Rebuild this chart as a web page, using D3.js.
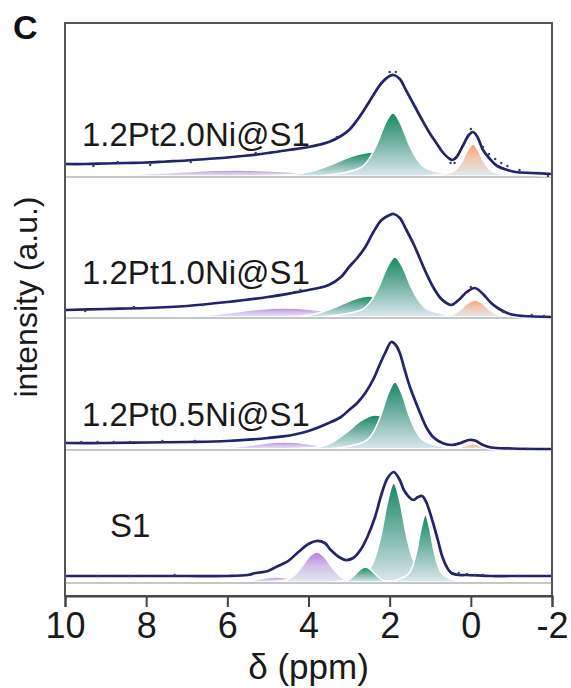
<!DOCTYPE html>
<html><head><meta charset="utf-8">
<script src="https://cdn.jsdelivr.net/npm/d3@7"></script>
<style>body{margin:0;background:#fff}svg{display:block}</style>
</head><body>
<script>
// ---- data ----
const xTicks = [10, 8, 6, 4, 2, 0, -2];
const xTickLabels = ["10", "8", "6", "4", "2", "0", "-2"];
const sampleNames = ["1.2Pt2.0Ni@S1", "1.2Pt1.0Ni@S1", "1.2Pt0.5Ni@S1", "S1"];

// fitted envelopes [ppm, intensity]
const fit1 = [[10,12],[9.5,12],[9,12.5],[8.5,13],[8,13.5],[7.5,14.5],[7,15.5],[6.5,17],[6,18.5],[5.5,20.5],[5,23],[4.5,26],[4,29],[3.5,34],[3.2,40],[3.0,46],[2.8,56],[2.6,68],[2.4,81],[2.2,93],[2.0,100],[1.9,101],[1.75,97],[1.6,86],[1.4,71],[1.2,56],[1.0,42],[0.85,33],[0.7,24],[0.55,18],[0.45,16],[0.35,19],[0.2,30],[0.05,41],[-0.05,44],[-0.15,40],[-0.3,26],[-0.45,18],[-0.65,10],[-0.9,6],[-1.1,4],[-1.5,3],[-2,2]];
const fit2 = [[10,7],[9,8],[8,9],[7,11],[6,15],[5,20],[4.4,24],[4,27],[3.5,32],[3.2,40],[3.0,50],[2.8,59],[2.6,70],[2.4,85],[2.2,97],[2.0,102],[1.9,103],[1.75,99],[1.6,88],[1.4,72],[1.25,58],[1.1,44],[0.93,30],[0.75,19],[0.6,14],[0.48,12],[0.3,17],[0.1,25],[-0.1,29],[-0.3,23],[-0.5,14],[-0.7,8],[-0.96,3],[-1.3,1],[-2,0]];
const fit3 = [[10,6],[9,6],[8,6.5],[7,7],[6,8],[5,11],[4.4,14],[4,18],[3.5,26],[3.2,32],[3.0,39],[2.8,46],[2.6,56],[2.4,70],[2.27,82],[2.1,97],[1.96,107],[1.85,104],[1.75,96],[1.65,82],[1.5,62],[1.28,39],[1.1,22],[0.93,12],[0.7,6],[0.48,4],[0.25,6],[0.05,9],[-0.1,8.5],[-0.3,4],[-0.5,1.5],[-1,0.5],[-2,0]];
const fit4 = [[10,6],[9,6],[8,6],[7,6],[6,6],[5.5,7],[5.3,9],[5.0,11],[4.8,15],[4.5,21],[4.25,30],[4.0,38],[3.8,41],[3.6,39],[3.45,32],[3.25,25],[3.08,22],[2.9,24],[2.72,32],[2.55,45],[2.36,65],[2.2,88],[2.05,104],[1.9,110],[1.75,102],[1.65,92],[1.5,84],[1.42,82],[1.3,85],[1.2,86],[1.1,80],[0.93,59],[0.8,40],[0.7,25],[0.58,14],[0.48,9],[0.3,7],[0.12,7],[-0.5,6],[-1,6],[-2,6]];

// experimental points that stand off the fit
const dots1 = [[9.3,10],[8.7,14],[7.9,11],[6.9,14],[5.3,23],[3.3,39],[2.0,104],[1.85,104],[0.5,13],[0.4,13],[0.0,47],[-0.3,29],[-0.45,22],[-0.6,17],[-0.75,13],[-0.9,10],[-1.2,6],[-1.7,3],[-1.9,0]];
const dots2 = [[9.5,6],[8.3,10],[6.6,12],[4.2,27],[0.0,30],[-0.8,5],[-1.5,2],[-1.8,1]];
const dots3 = [[9.6,7],[9.2,7],[8.8,7],[8.4,7],[7.6,8],[6.8,8],[-0.9,1],[-1.4,0]];
const dots4 = [[9.2,6],[8.4,6],[7.3,7],[0.3,9],[0.1,8],[-0.1,7],[-0.3,7],[-1.2,6]];

// deconvoluted components [ppm, intensity]
const c1Purple = [[11.56,0],[9.4,0.4],[8.5,1.3],[7.6,3],[6.7,5],[5.8,6],[4.9,5],[4.0,3],[3.1,1.3],[2.2,0.4],[0.04,0]];
const c1GreenBroad = [[5.6,0],[4.4,1.5],[3.9,5],[3.4,12],[2.9,20.2],[2.4,24],[1.9,20.2],[1.4,12],[0.9,5],[0.4,1.5],[-0.8,0]];
const c1GreenNarrow = [[3.84,0],[3.2,2.8],[2.72,8.2],[2.52,16.4],[2.32,31.5],[2.12,51.7],[1.92,63],[1.72,51.7],[1.52,31.5],[1.32,16.4],[1.12,8.2],[0.64,2.8],[0.0,0]];
const c1Orange = [[1.15,0],[0.75,1.4],[0.45,4.2],[0.325,8.3],[0.2,16],[0.075,26.2],[-0.05,32],[-0.175,26.2],[-0.3,16],[-0.425,8.3],[-0.55,4.2],[-0.85,1.4],[-1.25,0]];

const c2Purple = [[8.76,0],[7.2,0.6],[6.55,1.9],[5.9,4.5],[5.25,7.6],[4.6,9],[3.95,7.6],[3.3,4.5],[2.65,1.9],[2.0,0.6],[0.44,0]];
const c2GreenBroad = [[5.06,0],[4.1,1.3],[3.7,4.4],[3.3,10.5],[2.9,17.6],[2.5,21],[2.1,17.6],[1.7,10.5],[1.3,4.4],[0.9,1.3],[-0.06,0]];
const c2GreenNarrow = [[3.79,0],[3.15,2.7],[2.67,7.8],[2.47,15.6],[2.27,30],[2.07,49.2],[1.87,60],[1.67,49.2],[1.47,30],[1.27,15.6],[1.07,7.8],[0.59,2.7],[-0.05,0]];
const c2Orange = [[0.94,0],[0.55,1.1],[0.39,3.6],[0.225,8.5],[0.06,14.3],[-0.1,17],[-0.26,14.3],[-0.425,8.5],[-0.59,3.6],[-0.75,1.1],[-1.14,0]];

const c3Purple = [[7.48,0],[6.4,0.44],[5.95,1.5],[5.5,3.5],[5.05,5.9],[4.6,7],[4.15,5.9],[3.7,3.5],[3.25,1.5],[2.8,0.44],[1.72,0]];
const c3GreenBroad = [[4.59,0],[3.75,2.1],[3.4,7.1],[3.05,17],[2.7,28.6],[2.35,34],[2.0,28.6],[1.65,17],[1.3,7.1],[0.95,2.1],[0.11,0]];
const c3GreenNarrow = [[3.55,0],[2.99,3],[2.57,8.7],[2.395,17.4],[2.22,33.5],[2.045,54.9],[1.87,67],[1.695,54.9],[1.52,33.5],[1.345,17.4],[1.17,8.7],[0.75,3],[0.19,0]];
const c3Orange = [[0.75,0],[0.45,0.3],[0.325,1.05],[0.2,2.5],[0.075,4.2],[-0.05,5],[-0.175,4.2],[-0.3,2.5],[-0.425,1.05],[-0.55,0.3],[-0.85,0]];

const c4PurpleSmall = [[6.24,0],[5.7,0.3],[5.475,1.05],[5.25,2.5],[5.025,4.2],[4.8,5],[4.575,4.2],[4.35,2.5],[4.125,1.05],[3.9,0.3],[3.36,0]];
const c4PurpleBig = [[5.0,0],[4.55,1.9],[4.3625,6.3],[4.175,15],[3.9875,25.2],[3.8,30],[3.6125,25.2],[3.425,15],[3.2375,6.3],[3.05,1.9],[2.6,0]];
const c4GreenSmall = [[3.4,0],[3.1,0.9],[2.975,3.2],[2.85,7.5],[2.725,12.6],[2.6,15],[2.475,12.6],[2.35,7.5],[2.225,3.2],[2.1,0.9],[1.8,0]];
const c4GreenTall = [[3.34,0],[2.86,4.5],[2.5,12.9],[2.35,25.7],[2.2,49.5],[2.05,81.2],[1.9,99],[1.75,81.2],[1.6,49.5],[1.45,25.7],[1.3,12.9],[0.94,4.5],[0.46,0]];
const c4GreenRight = [[2.08,0],[1.76,3],[1.52,8.7],[1.42,17.4],[1.32,33.5],[1.22,54.9],[1.12,67],[1.02,54.9],[0.92,33.5],[0.82,17.4],[0.72,8.7],[0.48,3],[0.16,0]];

const fits = [fit1, fit2, fit3, fit4];
const dotSets = [dots1, dots2, dots3, dots4];
const componentSets = [
  [["purple", c1Purple], ["green", c1GreenBroad], ["green", c1GreenNarrow], ["orange", c1Orange]],
  [["purple", c2Purple], ["green", c2GreenBroad], ["green", c2GreenNarrow], ["orange", c2Orange]],
  [["purple", c3Purple], ["green", c3GreenBroad], ["green", c3GreenNarrow], ["orange", c3Orange]],
  [["purple", c4PurpleSmall], ["purple", c4PurpleBig], ["green", c4GreenTall], ["green", c4GreenRight], ["green", c4GreenSmall]]
];

// ---- layout ----
const W = 571, H = 688;
const L = 65, R = 552, T = 23, B = 596;
const bases = [176, 317, 449, 582];
const labelPos = [[82, 146], [82, 284], [82, 426], [110, 537]];
const font = "'Liberation Sans', Arial, Helvetica, sans-serif";

const svg = d3.select("body").append("svg").attr("width", W).attr("height", H);
const defs = svg.append("defs");
const palette = {
  green: ["#148a63", "#6fb0a0", "#dbe8ee"],
  purple: ["#b27be0", "#d2bdea", "#e2e9f1"],
  orange: ["#f4a06f", "#efc9b3", "#e0e8ee"]
};
Object.entries(palette).forEach(([k, c]) => {
  const g = defs.append("linearGradient").attr("id", "g-" + k)
    .attr("x1", 0).attr("y1", 0).attr("x2", 0).attr("y2", 1);
  g.append("stop").attr("offset", "0%").attr("stop-color", c[0]);
  g.append("stop").attr("offset", "45%").attr("stop-color", c[1]);
  g.append("stop").attr("offset", "100%").attr("stop-color", c[2]);
});
defs.append("clipPath").attr("id", "clip").append("rect")
  .attr("x", L).attr("y", T).attr("width", R - L).attr("height", B - T);

const x = d3.scaleLinear().domain([10, -2]).range([L, R]);

const plot = svg.append("g").attr("clip-path", "url(#clip)");

fits.forEach((fit, i) => {
  const y = d3.scaleLinear().domain([0, 120]).range([bases[i], bases[i] - 120]);
  const g = plot.append("g");
  const area = d3.area().x(d => x(d[0])).y0(y(0)).y1(d => y(d[1])).curve(d3.curveMonotoneX);
  componentSets[i].forEach(([col, pts]) => {
    g.append("path").attr("d", area(pts))
      .attr("fill", `url(#g-${col})`)
      .attr("stroke", "#fff").attr("stroke-width", 1.6);
  });
  g.append("line").attr("x1", L).attr("x2", R).attr("y1", y(0) + 1).attr("y2", y(0) + 1)
    .attr("stroke", "#c3c7ca").attr("stroke-width", 2);
  const line = d3.line().x(d => x(d[0])).y(d => y(d[1])).curve(d3.curveCatmullRom.alpha(0.5));
  g.append("path").attr("d", line(fit)).attr("fill", "none")
    .attr("stroke", "#fff").attr("stroke-width", 6).attr("stroke-opacity", 0.8);
  g.append("path").attr("d", line(fit)).attr("fill", "none")
    .attr("stroke", "#23236b").attr("stroke-width", 2.7).attr("stroke-linejoin", "round");
  g.selectAll("circle.d").data(dotSets[i]).join("circle")
    .attr("cx", d => x(d[0])).attr("cy", d => y(d[1])).attr("r", 1.2)
    .attr("fill", "#3a3a66");
  g.selectAll("circle.f").data(fit).join("circle")
    .attr("cx", d => x(d[0])).attr("cy", d => y(d[1])).attr("r", 1.1)
    .attr("fill", "#2b2b66");
});

sampleNames.forEach((n, i) => {
  svg.append("text").attr("x", labelPos[i][0]).attr("y", labelPos[i][1])
    .attr("font-family", font).attr("font-size", 33).attr("fill", "#1a1a1a").text(n);
});

// frame
svg.append("rect").attr("x", L).attr("y", T).attr("width", R - L).attr("height", B - T)
  .attr("fill", "none").attr("stroke", "#555").attr("stroke-width", 2);

// x axis
const ax = svg.append("g").attr("transform", `translate(0,${B})`)
  .call(d3.axisBottom(x).tickValues(xTicks).tickSize(11).tickPadding(5)
    .tickFormat((d, i) => xTickLabels[i]));
ax.select(".domain").attr("stroke", "#444").attr("stroke-width", 2);
ax.selectAll(".tick line").attr("stroke", "#444").attr("stroke-width", 2);
ax.selectAll(".tick text").attr("font-family", font).attr("font-size", 36).attr("fill", "#1a1a1a");

svg.append("text").attr("x", (L + R) / 2).attr("y", 679).attr("text-anchor", "middle")
  .attr("font-family", font).attr("font-size", 35).attr("fill", "#1a1a1a").text("δ (ppm)");

svg.append("text").attr("transform", "translate(37,297) rotate(-90)").attr("text-anchor", "middle")
  .attr("font-family", font).attr("font-size", 32).attr("fill", "#1a1a1a").text("intensity (a.u.)");

svg.append("text").attr("x", 13).attr("y", 39)
  .attr("font-family", font).attr("font-size", 34).attr("font-weight", "bold").attr("fill", "#111").text("C");
</script>
</body></html>
